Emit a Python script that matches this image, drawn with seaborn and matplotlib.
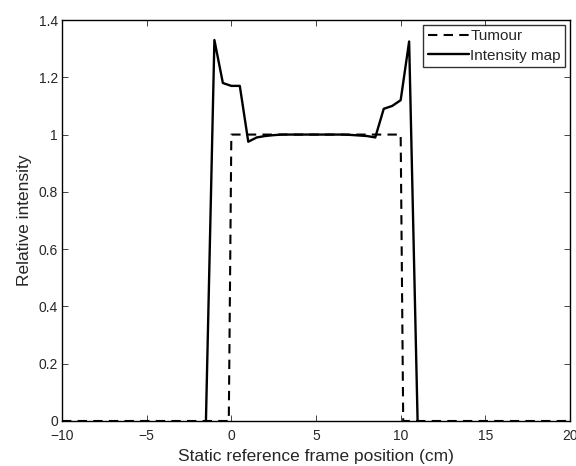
import numpy as np
import pandas as pd
import matplotlib
matplotlib.use('Agg')
import matplotlib.pyplot as plt
import seaborn as sns

# Tumour profile (step, 0/1)
tumour_x = [-10, -0.15, 0, 10, 10.15, 20]
tumour_y = [0, 0, 1, 1, 0, 0]

# Intensity map, 0.5 cm samples
intensity_x = [-1.5, -1.0, -0.5, 0.0, 0.5, 1.0, 1.5, 2.0, 2.5, 3.0, 3.5, 4.0,
               4.5, 5.0, 5.5, 6.0, 6.5, 7.0, 7.5, 8.0, 8.5, 9.0, 9.5, 10.0,
               10.5, 11.0]
intensity_y = [0.0, 1.33, 1.18, 1.17, 1.17, 0.975, 0.99, 0.995, 0.998, 1.0,
               1.0, 1.0, 1.0, 1.0, 1.0, 1.0, 1.0, 0.999, 0.997, 0.995, 0.99,
               1.09, 1.10, 1.12, 1.325, 0.0]

sns.set_style('ticks')
plt.rcParams['font.family'] = ['Liberation Sans', 'DejaVu Sans']

fig = plt.figure(figsize=(5.76, 4.66), dpi=100)
ax = fig.add_axes([62 / 576, 1 - 421 / 466, (570 - 62) / 576, (421 - 20) / 466])

tum = pd.DataFrame({'x': tumour_x, 'y': tumour_y})
inten = pd.DataFrame({'x': intensity_x, 'y': intensity_y})

sns.lineplot(data=tum, x='x', y='y', ax=ax, color='black', lw=1.5,
             linestyle=(0, (4.5, 3)), label='Tumour', sort=False)
sns.lineplot(data=inten, x='x', y='y', ax=ax, color='black', lw=1.7,
             label='Intensity map', sort=False)

ax.set_xlim(-10, 20)
ax.set_ylim(0, 1.4)
ax.set_xticks([-10, -5, 0, 5, 10, 15, 20])
ax.set_xticklabels(['\u221210', '\u22125', '0', '5', '10', '15', '20'])
ax.set_yticks(np.arange(0, 1.41, 0.2))
ax.set_yticklabels(['0', '0.2', '0.4', '0.6', '0.8', '1', '1.2', '1.4'])
ax.tick_params(direction='in', top=True, right=True, labelsize=10, length=4,
               width=0.6, pad=3)
ax.tick_params(axis='x', pad=6)
for s in ax.spines.values():
    s.set_linewidth(1.0)
    s.set_color('black')

ax.set_xlabel('Static reference frame position (cm)', fontsize=12.5, labelpad=4)
ax.set_ylabel('Relative intensity', fontsize=12.5, labelpad=5)

leg = ax.legend(loc='upper right', fontsize=11, frameon=True, fancybox=False,
                edgecolor='black', borderpad=0.3, handlelength=2.7,
                handletextpad=0.1, labelspacing=0.35, borderaxespad=0.3)
leg.get_frame().set_linewidth(1.0)

fig.savefig('out.png', dpi=100)
